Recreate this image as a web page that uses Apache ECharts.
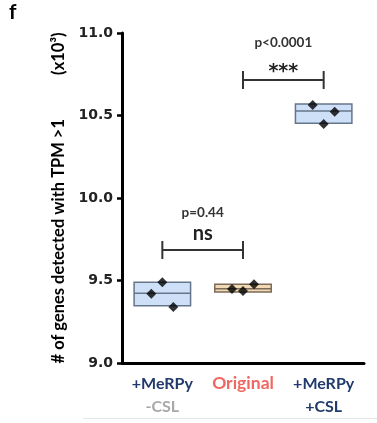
<!DOCTYPE html>
<html><head><meta charset="utf-8">
<script src="https://cdn.jsdelivr.net/npm/echarts@6/dist/echarts.min.js"></script>
<style>html,body{margin:0;padding:0;background:#fff}#c{width:377px;height:423px}</style>
</head><body><div id="c"></div>
<script>
const categories = ['+MeRPy\n-CSL', 'Original', '+MeRPy\n+CSL'];
// replicate values (x10^3), left/middle/right as drawn
const rep1 = [9.42, 9.49, 9.34];
const rep2 = [9.448, 9.436, 9.477];
const rep3 = [10.564, 10.448, 10.523];
const boxMin = [9.347, 9.430, 10.453];
const boxMax = [9.489, 9.477, 10.570];
const boxMid = [9.422, 9.450, 10.527];
const yTicks = [9.0, 9.5, 10.0, 10.5, 11.0];
const comparisons = [
  {from: 0, to: 1, y: 9.685, star: 'ns', p: 'p=0.44'},
  {from: 1, to: 2, y: 10.715, star: '***', p: 'p<0.0001'}
];
const fills = ['#cde0f8', '#f1d9b4', '#cde0f8'];
const strokes = ['#66768a', '#7b6b58', '#66768a'];
const jitter = [-11, 0, 11];

const font = 'Lato, "Open Sans", sans-serif';
const chart = echarts.init(document.getElementById('c'), null, {renderer: 'canvas'});

const points = [];
[rep1, rep2, rep3].forEach((arr, ci) => {
  arr.forEach((v, j) => points.push({value: [ci, v], symbolOffset: [jitter[j], 0]}));
});

chart.setOption({
  animation: false,
  grid: {left: 122, right: 13, top: 33, bottom: 60},
  graphic: [
    {type: 'text', left: 9, top: 2, style: {text: 'f', font: 'bold 21px ' + font, fill: '#000'}},
    {type: 'line', shape: {x1: 83, y1: 418.5, x2: 377, y2: 418.5}, style: {stroke: '#e6e6e6', lineWidth: 1}}
  ],
  xAxis: {
    type: 'category', data: categories, boundaryGap: true,
    axisLine: {lineStyle: {color: '#000', width: 3}},
    axisTick: {alignWithLabel: true, length: 5, lineStyle: {color: '#000', width: 2.5}},
    axisLabel: {
      margin: 9, interval: 0,
      formatter: function (val, idx) {
        if (idx === 0) return '{a|+MeRPy}\n{g|-CSL}';
        if (idx === 1) return '{r|Original}';
        return '{a|+MeRPy}\n{a|+CSL}';
      },
      rich: {
        a: {color: '#203a6b', fontWeight: 'bold', fontSize: 16, fontFamily: font, lineHeight: 23},
        g: {color: '#a8a8a8', fontWeight: 'bold', fontSize: 16, fontFamily: font, lineHeight: 23},
        r: {color: '#f06660', fontWeight: 'bold', fontSize: 17.5, fontFamily: font, lineHeight: 23}
      }
    }
  },
  yAxis: {
    type: 'value', min: 9.0, max: 11.0, interval: 0.5,
    splitLine: {show: false},
    axisLine: {show: true, lineStyle: {color: '#000', width: 3}},
    axisTick: {show: true, length: 5, lineStyle: {color: '#000', width: 2.5}},
    axisLabel: {
      margin: 9, color: '#222', fontWeight: 'bold', fontSize: 14, fontFamily: '"DejaVu Sans", sans-serif',
      formatter: v => (yTicks.find(t => Math.abs(t - v) < 1e-9) ?? v).toFixed(1)
    },
    name: '# of genes detected with TPM >1           (x10³)',
    nameLocation: 'middle', nameGap: 54, nameRotate: 90,
    nameTextStyle: {color: '#000', fontSize: 16.5, fontFamily: font, fontWeight: 'bold'}
  },
  series: [
    {
      type: 'custom', z: 2,
      data: categories.map((c, i) => [i, boxMin[i], boxMax[i], boxMid[i]]),
      renderItem: function (params, api) {
        const i = api.value(0);
        const bw = api.size([1, 0])[0] * 0.7;
        const p1 = api.coord([i, api.value(2)]);
        const p0 = api.coord([i, api.value(1)]);
        const pm = api.coord([i, api.value(3)]);
        return {
          type: 'group', children: [
            {type: 'rect', shape: {x: p1[0] - bw / 2, y: p1[1], width: bw, height: p0[1] - p1[1]},
             style: {fill: fills[i], stroke: strokes[i], lineWidth: 1.5}},
            {type: 'line', shape: {x1: p1[0] - bw / 2, y1: pm[1], x2: p1[0] + bw / 2, y2: pm[1]},
             style: {stroke: strokes[i], lineWidth: 1.5}}
          ]
        };
      }
    },
    {
      type: 'scatter', z: 3, symbol: 'diamond', symbolSize: 10,
      itemStyle: {color: '#000'}, data: points
    },
    {
      type: 'custom', z: 4,
      data: comparisons.map(c => [c.from, c.to, c.y]),
      renderItem: function (params, api) {
        const c = comparisons[params.dataIndex];
        const a = api.coord([api.value(0), api.value(2)]);
        const b = api.coord([api.value(1), api.value(2)]);
        const mx = (a[0] + b[0]) / 2;
        const st = {stroke: '#333', lineWidth: 2};
        const isNs = c.star === 'ns';
        return {
          type: 'group', children: [
            {type: 'line', shape: {x1: a[0], y1: a[1], x2: b[0], y2: b[1]}, style: st},
            {type: 'line', shape: {x1: a[0], y1: a[1] - 9, x2: a[0], y2: a[1] + 9}, style: st},
            {type: 'line', shape: {x1: b[0], y1: b[1] - 9, x2: b[0], y2: b[1] + 9}, style: st},
            {type: 'text', x: mx, y: a[1] - (isNs ? 16 : 8),
             style: {text: c.star, align: 'center', verticalAlign: 'middle',
                     font: isNs ? 'bold 20px ' + font : 'bold 19px "DejaVu Sans", sans-serif', fill: '#222'}},
            {type: 'text', x: mx, y: a[1] - 37,
             style: {text: c.p, align: 'center', verticalAlign: 'middle',
                     font: 'bold 13.5px ' + font, fill: '#333'}}
          ]
        };
      }
    }
  ]
});
</script></body></html>
